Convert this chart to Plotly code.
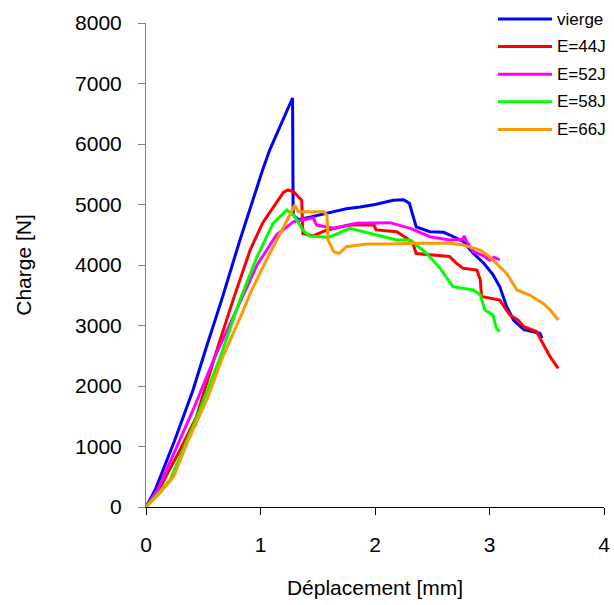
import plotly.graph_objects as go

# --- data ---
vierge_x = [0, 0.08, 0.25, 0.41, 0.52, 0.66, 0.82, 0.95, 1.02, 1.08, 1.15, 1.22, 1.28, 1.285, 1.33, 1.45, 1.58, 1.75, 1.87, 2.00, 2.16, 2.25, 2.30, 2.36, 2.48, 2.60, 2.65, 2.77, 2.86, 2.95, 3.03, 3.09, 3.15, 3.21, 3.30, 3.44, 3.46]
vierge_y = [0, 280, 1100, 1930, 2600, 3420, 4410, 5190, 5580, 5900, 6200, 6480, 6760, 4830, 4750, 4800, 4860, 4930, 4960, 5000, 5070, 5080, 5020, 4630, 4550, 4540, 4500, 4390, 4190, 4030, 3840, 3640, 3310, 3090, 2930, 2870, 2790]

e44_x = [0, 0.10, 0.20, 0.30, 0.44, 0.62, 0.76, 0.91, 1.02, 1.14, 1.20, 1.24, 1.29, 1.36, 1.37, 1.46, 1.58, 1.78, 1.99, 2.01, 2.19, 2.28, 2.33, 2.36, 2.51, 2.65, 2.71, 2.77, 2.89, 2.92, 2.93, 3.09, 3.14, 3.18, 3.25, 3.30, 3.41, 3.47, 3.53, 3.60]
e44_y = [0, 230, 600, 950, 1490, 2600, 3420, 4250, 4700, 5020, 5200, 5240, 5210, 5070, 4520, 4480, 4580, 4660, 4660, 4580, 4550, 4440, 4360, 4190, 4170, 4140, 4030, 3945, 3917, 3750, 3480, 3420, 3280, 3170, 3090, 2980, 2900, 2700, 2480, 2290]

e52_x = [0, 0.10, 0.27, 0.41, 0.59, 0.83, 0.97, 1.14, 1.29, 1.46, 1.49, 1.64, 1.84, 2.13, 2.31, 2.48, 2.65, 2.76, 2.78, 2.80, 2.86, 2.95, 3.00, 3.04, 3.09]
e52_y = [0, 280, 1000, 1600, 2430, 3420, 4000, 4500, 4716, 4780, 4660, 4606, 4689, 4700, 4606, 4468, 4413, 4420, 4480, 4385, 4220, 4150, 4080, 4130, 4083]

e58_x = [0, 0.21, 0.47, 0.65, 0.82, 0.97, 1.11, 1.23, 1.29, 1.37, 1.43, 1.58, 1.61, 1.78, 1.90, 2.07, 2.19, 2.31, 2.45, 2.57, 2.65, 2.68, 2.86, 2.92, 2.96, 3.03, 3.06, 3.09]
e58_y = [0, 446, 1603, 2484, 3421, 4138, 4689, 4909, 4826, 4579, 4479, 4457, 4468, 4606, 4550, 4468, 4413, 4413, 4193, 3945, 3724, 3641, 3587, 3504, 3256, 3174, 2954, 2898]

e66_x = [0, 0.12, 0.24, 0.37, 0.53, 0.675, 0.85, 0.91, 1.03, 1.17, 1.27, 1.30, 1.33, 1.55, 1.58, 1.59, 1.64, 1.69, 1.75, 1.93, 2.13, 2.36, 2.65, 2.77, 2.92, 3.00, 3.06, 3.15, 3.24, 3.35, 3.47, 3.53, 3.60]
e66_y = [0, 226, 501, 1107, 1769, 2500, 3250, 3532, 4000, 4524, 4900, 4992, 4881, 4881, 4826, 4413, 4220, 4193, 4303, 4347, 4347, 4358, 4358, 4330, 4248, 4138, 4028, 3862, 3587, 3504, 3366, 3256, 3091]

series_names = ["vierge", "E=44J", "E=52J", "E=58J", "E=66J"]
series_x = [vierge_x, e44_x, e52_x, e58_x, e66_x]
series_y = [vierge_y, e44_y, e52_y, e58_y, e66_y]
series_colors = ["#0000FF", "#FF0000", "#FF00FF", "#00FF00", "#FF9900"]

x_ticks = [0, 1, 2, 3, 4]
y_ticks = [0, 1000, 2000, 3000, 4000, 5000, 6000, 7000, 8000]

W, H = 614, 605
ML, MR, MT, MB = 146, 10, 23, 98
PW, PH = W - ML - MR, H - MT - MB

fig = go.Figure()
for name, xs, ys, col in zip(series_names, series_x, series_y, series_colors):
    fig.add_trace(go.Scatter(x=xs, y=ys, mode="lines", name=name,
                             line=dict(color=col, width=3), showlegend=False))

# custom legend (long line samples, like the reference)
def px_to_paper_x(px):
    return (px - ML) / PW

def px_to_paper_y(py):
    return (H - MB - py) / PH

leg_line_x0, leg_line_x1, leg_text_x = 498, 552, 555
leg_y0, leg_dy = 19, 27.6
for i, (name, col) in enumerate(zip(series_names, series_colors)):
    yy = px_to_paper_y(leg_y0 + i * leg_dy)
    fig.add_shape(type="line", xref="paper", yref="paper",
                  x0=px_to_paper_x(leg_line_x0), x1=px_to_paper_x(leg_line_x1),
                  y0=yy, y1=yy, line=dict(color=col, width=3))
    fig.add_annotation(xref="paper", yref="paper", x=px_to_paper_x(leg_text_x), y=yy,
                       text=name, showarrow=False, xanchor="left", yanchor="middle",
                       font=dict(size=17, color="black"))

font_family = "Arial, Liberation Sans, sans-serif"
fig.update_layout(
    width=W, height=H,
    margin=dict(l=ML, r=MR, t=MT, b=MB, autoexpand=False),
    paper_bgcolor="white", plot_bgcolor="white",
    font=dict(family=font_family, color="black", size=21),
    showlegend=False,
)
fig.update_xaxes(range=[0, 4], tickvals=x_ticks, showgrid=False, zeroline=False,
                 showline=True, linecolor="black", linewidth=1,
                 ticks="outside", ticklen=7, tickcolor="black",
                 ticklabelstandoff=12, automargin=False,
                 title=dict(text="Déplacement [mm]", font=dict(size=21), standoff=25))
fig.update_yaxes(range=[0, 8000], tickvals=y_ticks, showgrid=False, zeroline=False,
                 showline=True, linecolor="#808080", linewidth=1,
                 ticks="outside", ticklen=7, tickcolor="#808080",
                 ticklabelstandoff=12, automargin=False,
                 title=dict(text="Charge [N]", font=dict(size=21), standoff=37))

fig.write_html("out.html", config={"displayModeBar": False},
               post_script="document.body.style.margin='0px';document.body.style.overflow='hidden';")
